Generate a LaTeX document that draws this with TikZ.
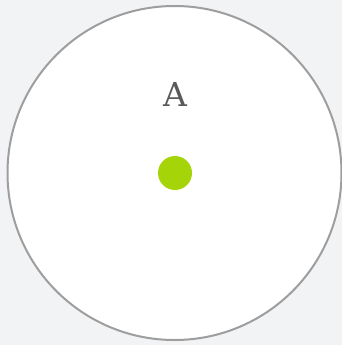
\documentclass[tikz,border=0pt]{standalone}
\usepackage{fontspec}
\setmainfont{DejaVu Serif}
\definecolor{bg}{HTML}{F2F3F5}
\definecolor{ring}{HTML}{9E9E9E}
\definecolor{dotgreen}{HTML}{A5D408}
\definecolor{txt}{HTML}{5A5A5A}
\begin{document}
\begin{tikzpicture}[x=1pt,y=-1pt]
\useasboundingbox (0,0) rectangle (342,345);
\fill[bg] (0,0) rectangle (342,345);
\node[circle, draw=ring, line width=2pt, fill=white, minimum size=334pt, inner sep=0pt] (ring) at (174.5,173) {};
\node[text=txt, font=\fontsize{33}{33}\selectfont, inner sep=0pt, anchor=base] (lbl) at (175,106) {A};
\node[circle, fill=dotgreen, minimum size=34pt, inner sep=0pt] (dot) at (175,173) {};
\end{tikzpicture}
\end{document}
